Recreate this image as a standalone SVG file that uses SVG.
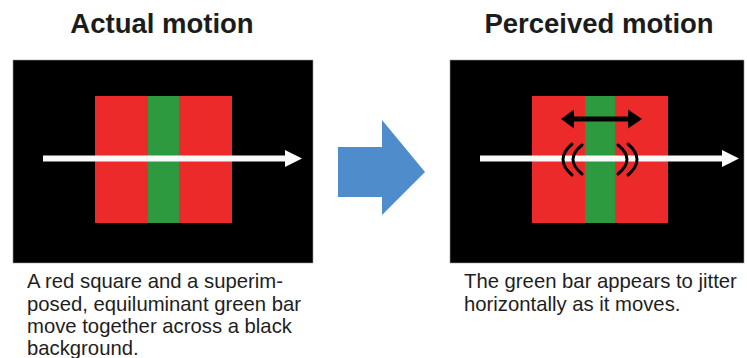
<svg xmlns="http://www.w3.org/2000/svg" width="747" height="358" viewBox="0 0 747 358">
<style>
.title{font-family:"Liberation Sans",Arial,sans-serif;font-weight:bold;font-size:27.5px;fill:#1c1c1c;text-anchor:middle}
.cap{font-family:"Liberation Sans",Arial,sans-serif;font-size:20.3px;fill:#1e1e1e}
.panel{fill:#000;stroke:#9a9a9a;stroke-width:0.6}
.red{fill:#ec2a2a}
.green{fill:#2e9a40}
.white{fill:#fafafa}
.arc{fill:none;stroke:#000;stroke-width:3;stroke-linecap:round}
</style>
<rect width="747" height="358" fill="#fff"/>
<g id="title-actual"><text class="title" x="162" y="33">Actual motion</text></g>
<g id="title-perceived"><text class="title" x="599" y="33">Perceived motion</text></g>
<g id="panel-actual">
<rect class="panel" x="13" y="60" width="300" height="203"/>
<rect class="red" x="95" y="96" width="137" height="127"/>
<rect class="green" x="148" y="96" width="31" height="127"/>
<rect class="white" x="43" y="155.5" width="243" height="6"/>
<polygon class="white" points="285,150 302,158.5 285,167"/>
</g>
<g id="panel-perceived">
<rect class="panel" x="450" y="60" width="294" height="203"/>
<rect class="red" x="532" y="96" width="136" height="127"/>
<rect class="green" x="585" y="96" width="30" height="127"/>
<rect class="white" x="480" y="155.5" width="244" height="6"/>
<polygon class="white" points="722,150 739,158.5 722,167"/>
<g id="jitter-arrow">
<rect x="572" y="116.5" width="57" height="5" fill="#000"/>
<polygon points="561,119 574,109.5 574,128.5" fill="#000"/>
<polygon points="642,119 628,109.5 628,128.5" fill="#000"/>
</g>
<g id="jitter-arcs">
<path class="arc" d="M572,144 Q554,159.5 572,175"/>
<path class="arc" d="M582,145 Q564,159.5 582,174"/>
<path class="arc" d="M618,145 Q636,159.5 618,174"/>
<path class="arc" d="M628,144 Q646,159.5 628,175"/>
</g>
</g>
<g id="connectors">
<polygon id="big-arrow" points="338,147 382,147 382,120 425,172 382,215 382,197 338,197" fill="#4f8ccc"/>
</g>
<g id="caption-actual">
<text class="cap" x="27" y="288">A red square and a superim-</text>
<text class="cap" x="27" y="310.5">posed, equiluminant green bar</text>
<text class="cap" x="27" y="333">move together across a black</text>
<text class="cap" x="27" y="355">background.</text>
</g>
<g id="caption-perceived">
<text class="cap" x="464" y="288">The green bar appears to jitter</text>
<text class="cap" x="464" y="310.5">horizontally as it moves.</text>
</g>
</svg>
